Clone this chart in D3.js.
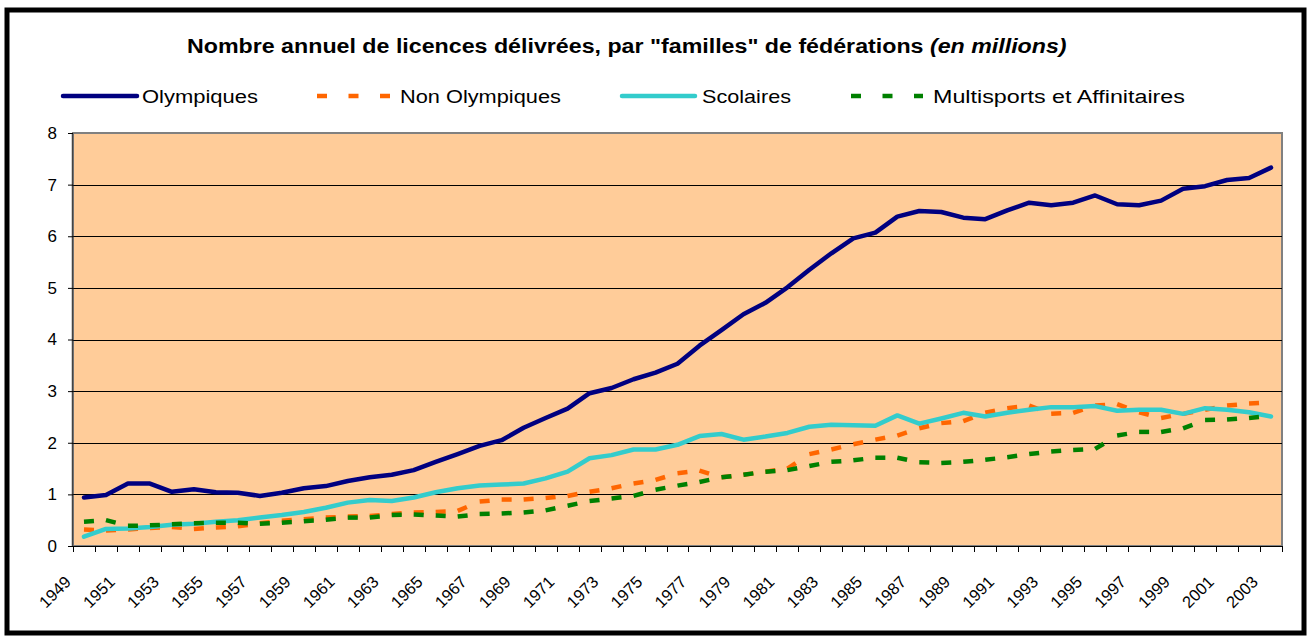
<!DOCTYPE html>
<html><head><meta charset="utf-8">
<script src="https://cdn.jsdelivr.net/npm/d3@7/dist/d3.min.js"></script>
<style>
body{margin:0;background:#fff}
svg{display:block}
text{font-family:"Liberation Sans",Arial,sans-serif;fill:#000}
</style>
</head><body>
<svg id="c" width="1307" height="637"></svg>
<script>
const years = [1949,1950,1951,1952,1953,1954,1955,1956,1957,1958,1959,1960,1961,1962,1963,1964,1965,1966,1967,1968,1969,1970,1971,1972,1973,1974,1975,1976,1977,1978,1979,1980,1981,1982,1983,1984,1985,1986,1987,1988,1989,1990,1991,1992,1993,1994,1995,1996,1997,1998,1999,2000,2001,2002,2003];
const tickLabels = ["1949","1951","1953","1955","1957","1959","1961","1963","1965","1967","1969","1971","1973","1975","1977","1979","1981","1983","1985","1987","1989","1991","1993","1995","1997","1999","2001","2003"];
const yTicks = [0,1,2,3,4,5,6,7,8];
const olympiques = [0.94,0.99,1.21,1.21,1.05,1.10,1.04,1.03,0.97,1.03,1.12,1.16,1.26,1.33,1.38,1.47,1.63,1.78,1.94,2.05,2.29,2.48,2.66,2.96,3.06,3.23,3.36,3.53,3.88,4.18,4.49,4.71,5.01,5.35,5.67,5.96,6.07,6.38,6.49,6.47,6.36,6.33,6.50,6.65,6.60,6.65,6.79,6.62,6.60,6.69,6.92,6.97,7.09,7.13,7.33];
const nonOlympiques = [0.32,0.30,0.32,0.35,0.37,0.33,0.36,0.38,0.44,0.49,0.52,0.55,0.57,0.58,0.62,0.65,0.66,0.68,0.86,0.90,0.90,0.93,0.97,1.05,1.12,1.21,1.28,1.41,1.46,1.33,1.38,1.44,1.50,1.78,1.87,1.97,2.06,2.14,2.28,2.38,2.42,2.58,2.67,2.72,2.56,2.58,2.72,2.75,2.59,2.48,2.56,2.64,2.72,2.76,2.78];
const scolaires = [0.18,0.33,0.34,0.37,0.41,0.43,0.47,0.50,0.55,0.60,0.66,0.74,0.84,0.89,0.87,0.94,1.04,1.12,1.17,1.19,1.21,1.31,1.44,1.70,1.76,1.87,1.87,1.96,2.13,2.17,2.06,2.12,2.19,2.31,2.35,2.34,2.33,2.53,2.37,2.47,2.58,2.51,2.58,2.64,2.69,2.69,2.71,2.62,2.64,2.64,2.56,2.67,2.64,2.59,2.51];
const multisports = [0.47,0.50,0.39,0.40,0.42,0.44,0.45,0.45,0.43,0.45,0.48,0.51,0.55,0.55,0.60,0.61,0.59,0.57,0.62,0.63,0.65,0.69,0.78,0.87,0.92,0.97,1.09,1.17,1.24,1.33,1.38,1.44,1.47,1.55,1.63,1.66,1.71,1.71,1.62,1.61,1.63,1.67,1.72,1.78,1.83,1.86,1.88,2.14,2.21,2.21,2.28,2.44,2.45,2.48,2.52];
const seriesNames = ["Olympiques","Non Olympiques","Scolaires","Multisports et Affinitaires"];
const titleBold = 'Nombre annuel de licences délivrées, par "familles" de fédérations ';
const titleItalic = '(en millions)';

const svg = d3.select("#c");
const L = 73, R = 1282, T = 133, B = 546;

// outer frame
svg.append("rect").attr("x",7).attr("y",10).attr("width",1297).attr("height",623)
  .attr("fill","#fff").attr("stroke","#000").attr("stroke-width",5);

const x = d3.scaleBand().domain(years).range([L,R]).padding(0);
const cx = d => x(d) + x.bandwidth()/2;
const y = d3.scaleLinear().domain([0,8]).range([B,T]);

// plot area
svg.append("rect").attr("x",L).attr("y",T).attr("width",R-L).attr("height",B-T)
  .attr("fill","#FFCC99").attr("stroke","#808080").attr("stroke-width",2);

// gridlines
svg.append("g").selectAll("line").data(yTicks.filter(v=>v>0 && v<8)).join("line")
  .attr("x1",L).attr("x2",R).attr("y1",d=>Math.round(y(d))+0.5).attr("y2",d=>Math.round(y(d))+0.5)
  .attr("stroke","#000").attr("stroke-width",1);

// y axis
const yAxis = svg.append("g").attr("transform",`translate(${L},0)`)
  .call(d3.axisLeft(y).tickValues(yTicks).tickSize(5).tickPadding(11).tickFormat(d3.format("d")));
yAxis.selectAll("text").attr("font-size",17).attr("font-family",'"Liberation Sans",Arial,sans-serif').attr("fill","#000");
yAxis.selectAll("line").attr("stroke","#000");
yAxis.select(".domain").attr("stroke","#444").attr("stroke-width",1.5).attr("d",`M-0.5,${T}V${B}`);

// x axis
const xg = svg.append("g");
xg.append("line").attr("x1",L).attr("x2",R).attr("y1",B+0.5).attr("y2",B+0.5).attr("stroke","#000");
const bounds = years.map(d=>x(d)).concat([x.range()[1]]);
xg.selectAll("line.tk").data(bounds).join("line").attr("class","tk")
  .attr("x1",d=>Math.round(d)+0.5).attr("x2",d=>Math.round(d)+0.5).attr("y1",B).attr("y2",B+6)
  .attr("stroke","#000");
xg.selectAll("text").data(tickLabels).join("text")
  .attr("transform",d=>`translate(${cx(+d)-12},${B+37}) rotate(-45)`)
  .attr("text-anchor","end").attr("font-size",16.5).text(d=>d);

// series
const line = d3.line().x((d,i)=>cx(years[i])).y(d=>y(d));
function solid(vals,color){
  svg.append("path").datum(vals).attr("d",line).attr("fill","none")
    .attr("stroke",color).attr("stroke-width",4.5).attr("stroke-linejoin","round").attr("stroke-linecap","round");
}
function dashed(vals,color){
  const segs = d3.pairs(vals.map((v,i)=>[cx(years[i]),y(v)]));
  svg.append("g").selectAll("line").data(segs).join("line")
    .attr("x1",d=>d[0][0]).attr("y1",d=>d[0][1]).attr("x2",d=>d[1][0]).attr("y2",d=>d[1][1])
    .attr("stroke",color).attr("stroke-width",4.5).attr("stroke-dasharray","10,21");
}
const colors = ["#000080","#FF6600","#33CCCC","#008000"];
solid(olympiques,colors[0]);
dashed(nonOlympiques,colors[1]);
solid(scolaires,colors[2]);
dashed(multisports,colors[3]);

// title
const title = svg.append("text").attr("font-size",21).attr("font-weight","bold");
title.append("tspan").text(titleBold);
title.append("tspan").attr("font-style","italic").text(titleItalic);
function fit(sel, x0, yb, w){
  const bw = sel.node().getBBox().width;
  sel.attr("transform",`translate(${x0},${yb}) scale(${w/bw},1)`);
}
fit(title,187,53,880);

// legend
const legY = 96;
const legend = [
  {x0:61,x1:139,tx:142,tw:116,dash:false},
  {x0:317,x1:390,tx:400,tw:161,dash:true},
  {x0:620,x1:697,tx:702,tw:89,dash:false},
  {x0:851,x1:923,tx:933,tw:252,dash:true}
];
legend.forEach((l,i)=>{
  const ln = svg.append("line").attr("x1",l.x0).attr("x2",l.x1).attr("y1",legY).attr("y2",legY)
    .attr("stroke",colors[i]).attr("stroke-width",4.5);
  if(l.dash) ln.attr("stroke-dasharray","10,21.5");
  else ln.attr("stroke-linecap","round").attr("x1",l.x0+2).attr("x2",l.x1-2);
  const t = svg.append("text").attr("font-size",19).text(seriesNames[i]);
  fit(t,l.tx,legY+7,l.tw);
});
</script>
</body></html>
